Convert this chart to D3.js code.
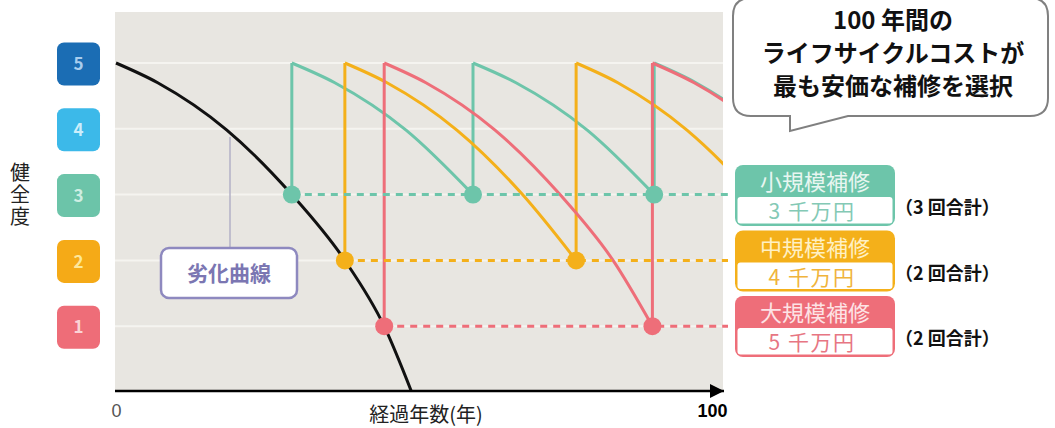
<!DOCTYPE html>
<html>
<head>
<meta charset="utf-8">
<script src="https://cdn.jsdelivr.net/npm/d3@7"></script>
<style>
    body { margin: 0; background: #fff; }
    svg { display: block; font-family: 'Noto Sans CJK JP', 'Noto Sans', sans-serif; }
</style>
</head>
<body>
<svg id="chart" width="1055" height="428"></svg>
<script>
'use strict'

// health levels (badges on the left)
const levels = [5, 4, 3, 2, 1]
const levelColors = ['#1b6db4', '#3cb9e9', '#6cc4a9', '#f5aa17', '#ee6d78']
const levelTextColors = ['#a9cdee', '#cdeefb', '#cfeee3', '#fde79a', '#fbd3d6']

// deterioration curve: years -> health
const curveYears = [0, 7, 18.6, 29.5, 38.4, 45, 49.6]
const curveHealth = [5, 4.7, 3.98, 3, 2, 1, 0]

// repair strategies
const repairNames = ['小規模補修', '中規模補修', '大規模補修']
const repairCosts = ['3 千万円', '4 千万円', '5 千万円']
const repairCounts = ['（3 回合計）', '（2 回合計）', '（2 回合計）']
const repairLevels = [3, 2, 1]
const repairYears = [[29.5, 59.9, 90.3], [38.4, 77.2], [45, 90]]
const repairColors = ['#6dc5aa', '#f4b01a', '#ee6e79']
const repairHeadText = ['#e8f6f1', '#fff0c4', '#fde3e5']
const repairCostText = ['#84c9b5', '#f0b43c', '#e77683']

const xTicks = [0, 100]
const callout = ['100 年間の', 'ライフサイクルコストが', '最も安価な補修を選択']

const plot = { left: 115, right: 723, top: 12, axis: 391 }

const svg = d3.select('#chart')

const x = d3.scaleLinear().domain([0, 100]).range([116, 712])
const y = d3.scaleLinear().domain([0, 5]).range([392, 63])

const base = curveYears.map((t, i) => ({ t: t, h: curveHealth[i] }))

const line = d3
    .line()
    .x((d) => x(d.t))
    .y((d) => y(d.h))
    .curve(d3.curveMonotoneX)

// the curve after a repair at "start", stretched so it reaches "level" at "next"
function segment(start, level, next) {
    const pts = next == null ? base : base.filter((d) => d.h >= level - 1e-9)
    const tEnd = pts[pts.length - 1].t
    const k = next == null ? 1 : (next - start) / tEnd
    return pts.map((d) => ({ t: start + d.t * k, h: d.h }))
}

// plot background
svg.append('rect')
    .attr('x', plot.left)
    .attr('y', plot.top)
    .attr('width', plot.right - plot.left)
    .attr('height', plot.axis - plot.top)
    .attr('fill', '#e8e6e1')

svg.append('defs')
    .append('clipPath')
    .attr('id', 'clip')
    .append('rect')
    .attr('x', plot.left)
    .attr('y', 0)
    .attr('width', plot.right - plot.left)
    .attr('height', plot.axis)

// grid lines at each level
svg.append('g')
    .selectAll('line')
    .data(levels)
    .enter()
    .append('line')
    .attr('x1', plot.left)
    .attr('x2', plot.right)
    .attr('y1', (d) => y(d))
    .attr('y2', (d) => y(d))
    .attr('stroke', '#f5f4f0')
    .attr('stroke-width', 2)

// level badges
const badges = svg.append('g')
    .selectAll('g')
    .data(levels)
    .enter()
    .append('g')
    .attr('transform', (d) => `translate(78.5, ${y(d) + 1})`)

badges.append('rect')
    .attr('x', -21.5)
    .attr('y', -21.5)
    .attr('width', 43)
    .attr('height', 43)
    .attr('rx', 7)
    .attr('fill', (d, i) => levelColors[i])

badges.append('text')
    .attr('text-anchor', 'middle')
    .attr('dy', '0.36em')
    .attr('font-size', 17)
    .attr('font-weight', 'bold')
    .attr('fill', (d, i) => levelTextColors[i])
    .text((d) => d)

// vertical y title
svg.append('text')
    .attr('x', 20)
    .attr('y', 162)
    .style('writing-mode', 'vertical-rl')
    .attr('font-size', 20)
    .attr('letter-spacing', 2)
    .attr('fill', '#222')
    .text('健全度')

const chart = svg.append('g').attr('clip-path', 'url(#clip)')

// dashed threshold lines
svg.append('g')
    .selectAll('line')
    .data(repairLevels)
    .enter()
    .append('line')
    .attr('x1', (d, i) => x(repairYears[i][0]))
    .attr('x2', 728)
    .attr('y1', (d) => y(d))
    .attr('y2', (d) => y(d))
    .attr('stroke', (d, i) => repairColors[i])
    .attr('stroke-width', 3)
    .attr('stroke-dasharray', '7,6')

// deterioration curve
chart.append('path')
    .datum(base)
    .attr('d', line)
    .attr('fill', 'none')
    .attr('stroke', '#111')
    .attr('stroke-width', 3)

// repair cycles
repairYears.forEach((years, i) => {
    const level = repairLevels[i]
    const g = chart.append('g')
        .attr('fill', 'none')
        .attr('stroke', repairColors[i])
        .attr('stroke-width', 3)
    years.forEach((r, j) => {
        g.append('line')
            .attr('x1', x(r))
            .attr('x2', x(r))
            .attr('y1', y(level))
            .attr('y2', y(5))
        g.append('path')
            .datum(segment(r, level, years[j + 1]))
            .attr('d', line)
    })
})

// repair dots
repairYears.forEach((years, i) => {
    svg.append('g')
        .selectAll('circle')
        .data(years)
        .enter()
        .append('circle')
        .attr('cx', (d) => x(d))
        .attr('cy', y(repairLevels[i]))
        .attr('r', 9)
        .attr('fill', repairColors[i])
})

// 劣化曲線 label
svg.append('line')
    .attr('x1', 230)
    .attr('x2', 230)
    .attr('y1', 137)
    .attr('y2', 248)
    .attr('stroke', '#b3b0c6')
    .attr('stroke-width', 1.5)

svg.append('rect')
    .attr('x', 161)
    .attr('y', 248)
    .attr('width', 136)
    .attr('height', 50)
    .attr('rx', 8)
    .attr('fill', '#fff')
    .attr('stroke', '#8e89bf')
    .attr('stroke-width', 2.5)

svg.append('text')
    .attr('x', 229)
    .attr('y', 273)
    .attr('dy', '0.36em')
    .attr('text-anchor', 'middle')
    .attr('font-size', 21)
    .attr('font-weight', 'bold')
    .attr('fill', '#7b76b2')
    .text('劣化曲線')

// x axis
svg.append('defs')
    .append('marker')
    .attr('id', 'arrow')
    .attr('viewBox', '0 0 10 10')
    .attr('refX', 10)
    .attr('refY', 5)
    .attr('markerWidth', 28)
    .attr('markerHeight', 14)
    .attr('markerUnits', 'userSpaceOnUse')
    .attr('orient', 'auto')
    .append('path')
    .attr('d', 'M0,0L10,5L0,10Z')
    .attr('fill', '#000')

svg.append('line')
    .attr('x1', plot.left)
    .attr('x2', plot.right + 1)
    .attr('y1', plot.axis)
    .attr('y2', plot.axis)
    .attr('stroke', '#000')
    .attr('stroke-width', 2.5)
    .attr('marker-end', 'url(#arrow)')

const xAxis = svg.append('g')
    .attr('transform', `translate(0, ${plot.axis + 10})`)
    .call(d3.axisBottom(x).tickValues(xTicks).tickSize(0))

xAxis.attr('font-size', 18).attr('font-family', "'Liberation Sans', Arial, sans-serif")
xAxis.select('.domain').remove()
xAxis.selectAll('text')
    .style('fill', (d) => (d === 100 ? '#000' : '#555'))
    .style('font-weight', (d) => (d === 100 ? 'bold' : 'normal'))
    .attr('dy', '0.71em')

svg.append('text')
    .attr('x', 426)
    .attr('y', 422)
    .attr('text-anchor', 'middle')
    .attr('font-size', 20)
    .attr('fill', '#222')
    .text('経過年数(年)')

// callout bubble
const cb = { l: 733, r: 1048, t: -2, b: 116, rad: 18 }
svg.append('path')
    .attr('d', [
        `M${cb.l + cb.rad},${cb.t}`,
        `H${cb.r - cb.rad}`,
        `Q${cb.r},${cb.t} ${cb.r},${cb.t + cb.rad}`,
        `V${cb.b - cb.rad}`,
        `Q${cb.r},${cb.b} ${cb.r - cb.rad},${cb.b}`,
        'H848',
        'L790,131',
        `V${cb.b}`,
        `H${cb.l + cb.rad}`,
        `Q${cb.l},${cb.b} ${cb.l},${cb.b - cb.rad}`,
        `V${cb.t + cb.rad}`,
        `Q${cb.l},${cb.t} ${cb.l + cb.rad},${cb.t}`,
        'Z',
    ].join(''))
    .attr('fill', '#fff')
    .attr('stroke', '#808080')
    .attr('stroke-width', 2)

svg.append('g')
    .selectAll('text')
    .data(callout)
    .enter()
    .append('text')
    .attr('x', 893)
    .attr('y', (d, i) => 29 + i * 33)
    .attr('text-anchor', 'middle')
    .attr('font-size', 24)
    .attr('font-weight', 'bold')
    .attr('fill', '#111')
    .text((d) => d)

// legend boxes
const legend = svg.append('g')
    .selectAll('g')
    .data(repairNames)
    .enter()
    .append('g')
    .attr('transform', (d, i) => `translate(735, ${165 + i * 65.5})`)

legend.append('rect')
    .attr('width', 160)
    .attr('height', 61)
    .attr('rx', 8)
    .attr('fill', (d, i) => repairColors[i])

legend.append('rect')
    .attr('x', 2.5)
    .attr('y', 32)
    .attr('width', 155)
    .attr('height', 26.5)
    .attr('rx', 3)
    .attr('fill', '#fff')

legend.append('text')
    .attr('x', 80)
    .attr('y', 25)
    .attr('text-anchor', 'middle')
    .attr('font-size', 22)
    .attr('fill', (d, i) => repairHeadText[i])
    .text((d) => d)

legend.append('text')
    .attr('x', 77)
    .attr('y', 54)
    .attr('text-anchor', 'middle')
    .attr('font-size', 21)
    .attr('letter-spacing', 1.5)
    .attr('fill', (d, i) => repairCostText[i])
    .text((d, i) => repairCosts[i])

legend.append('text')
    .attr('x', 160)
    .attr('y', 49)
    .attr('font-size', 18)
    .attr('font-weight', 'bold')
    .attr('fill', '#111')
    .text((d, i) => repairCounts[i])
</script>
</body>
</html>
